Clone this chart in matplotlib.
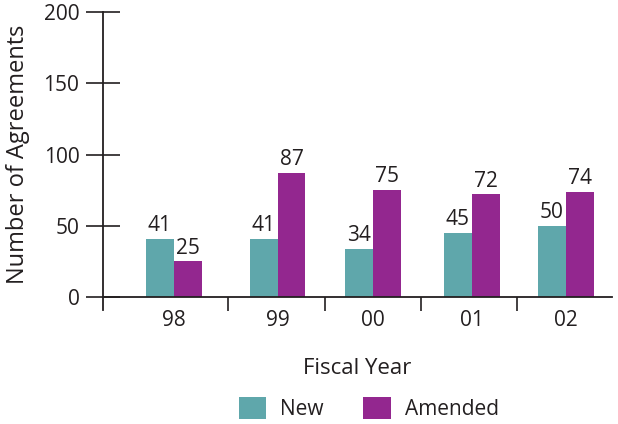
import matplotlib.pyplot as plt
import numpy as np
from matplotlib.patches import Patch

years = ["98", "99", "00", "01", "02"]
new_agreements = [41, 41, 34, 45, 50]
amended_agreements = [25, 87, 75, 72, 74]

teal = "#5fa7ab"
purple = "#93278f"
ink = "#231f20"

plt.rcParams["font.family"] = ["Open Sans", "DejaVu Sans"]
plt.rcParams["font.size"] = 15

fig = plt.figure(figsize=(6.18, 4.24), dpi=100)
ax = fig.add_axes([0.1667, 0.2995, 0.8233, 0.6722])

x = np.arange(len(years)) + np.array([0.0, 0.06, 0.03, 0.04, 0.0])
w = 0.285
bars_new = ax.bar(x - w / 2, new_agreements, w, color=teal, label="New")
bars_amd = ax.bar(x + w / 2, amended_agreements, w, color=purple, label="Amended")

for bars in (bars_new, bars_amd):
    for b in bars:
        ax.annotate(f"{b.get_height():.0f}", (b.get_x() + b.get_width() / 2, b.get_height()),
                    xytext=(0, 2), textcoords="offset points",
                    ha="center", va="bottom", color=ink, fontsize=15)

ax.set_xlim(-0.72, 4.47)
ax.set_ylim(0, 200)
ax.set_yticks([0, 50, 100, 150, 200])

# category labels centred under each group, separator ticks between groups
ax.set_xticks(x)
ax.set_xticklabels(years)
ax.tick_params(axis="x", which="major", length=0, pad=9, labelcolor=ink, labelsize=15)
ax.set_xticks([0.55, 1.54, 2.52, 3.5], minor=True)
ax.tick_params(axis="x", which="minor", length=10, width=1.2, color=ink, direction="out")

ax.tick_params(axis="y", length=24, width=1.2, direction="inout", color=ink,
               labelcolor=ink, labelsize=15, pad=5)

for side in ("top", "right"):
    ax.spines[side].set_visible(False)
ax.spines["left"].set_color(ink)
ax.spines["left"].set_linewidth(1.3)
ax.spines["left"].set_bounds(-9, 200)
ax.spines["left"].set_clip_on(False)
ax.spines["bottom"].set_color(ink)
ax.spines["bottom"].set_linewidth(1.3)

ax.set_ylabel("Number of Agreements", fontsize=17, color=ink, labelpad=10)
ax.set_xlabel("Fiscal Year", fontsize=16, color=ink, labelpad=20)

handles = [Patch(facecolor=teal, label="New"), Patch(facecolor=purple, label="Amended")]
fig.legend(handles=handles, loc="center", bbox_to_anchor=(0.597, 0.037), ncol=2,
           frameon=False, fontsize=15, handlelength=1.3, handleheight=1.3,
           columnspacing=1.9, handletextpad=0.7, labelcolor=ink)

fig.savefig("out.png", dpi=100)
